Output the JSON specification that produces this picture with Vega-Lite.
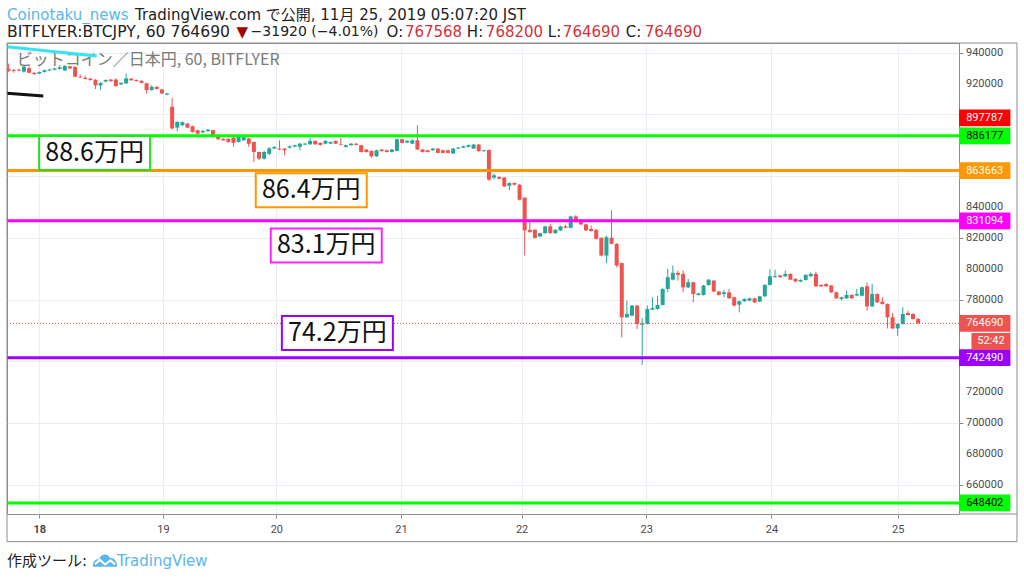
{
  "$schema": "https://vega.github.io/schema/vega-lite/v6.json",
  "autosize": "none",
  "width": 952,
  "height": 471,
  "padding": {"left": 7, "top": 43, "right": 65, "bottom": 64},
  "background": "#ffffff",
  "config": {"view": {"stroke": "#8d8d8d", "strokeWidth": 1}},
  "datasets": {
    "candles": [
      {"i":-6,"o":929500,"h":933000,"l":927500,"c":928400},
      {"i":-5,"o":928800,"h":929500,"l":927000,"c":928200},
      {"i":-4,"o":929000,"h":929600,"l":928000,"c":928400},
      {"i":-3,"o":927700,"h":931500,"l":927000,"c":931000},
      {"i":-2,"o":930000,"h":931000,"l":926500,"c":927000},
      {"i":-1,"o":927000,"h":927400,"l":925500,"c":926200},
      {"i":0,"o":926500,"h":927900,"l":926100,"c":927500},
      {"i":1,"o":927600,"h":929100,"l":927200,"c":928700},
      {"i":2,"o":928500,"h":929600,"l":928100,"c":929200},
      {"i":3,"o":929000,"h":930200,"l":928600,"c":929800},
      {"i":4,"o":929500,"h":932000,"l":929100,"c":930500},
      {"i":5,"o":928500,"h":932000,"l":928100,"c":931400},
      {"i":6,"o":931200,"h":931600,"l":929400,"c":929800},
      {"i":7,"o":930800,"h":931500,"l":924000,"c":924500},
      {"i":8,"o":924500,"h":926000,"l":923600,"c":924000},
      {"i":9,"o":923800,"h":925000,"l":922600,"c":923000},
      {"i":10,"o":923200,"h":923600,"l":921900,"c":922300},
      {"i":11,"o":922500,"h":922900,"l":916500,"c":918800},
      {"i":12,"o":918800,"h":921000,"l":916000,"c":920400},
      {"i":13,"o":921300,"h":922700,"l":920900,"c":922300},
      {"i":14,"o":922600,"h":923000,"l":921200,"c":921600},
      {"i":15,"o":922600,"h":923500,"l":918000,"c":918400},
      {"i":16,"o":919500,"h":920900,"l":919100,"c":920500},
      {"i":17,"o":920100,"h":926500,"l":919700,"c":923400},
      {"i":18,"o":923200,"h":923600,"l":921800,"c":922200},
      {"i":19,"o":922300,"h":922700,"l":921300,"c":921700},
      {"i":20,"o":921800,"h":922200,"l":920100,"c":920500},
      {"i":21,"o":920200,"h":920600,"l":913600,"c":915800},
      {"i":22,"o":915800,"h":919000,"l":915400,"c":917900},
      {"i":23,"o":917900,"h":918300,"l":916100,"c":916500},
      {"i":24,"o":916200,"h":916600,"l":913200,"c":913600},
      {"i":25,"o":912800,"h":914000,"l":912400,"c":913600},
      {"i":26,"o":905000,"h":910500,"l":890000,"c":891000},
      {"i":27,"o":891500,"h":895600,"l":889000,"c":895200},
      {"i":28,"o":893000,"h":895400,"l":892600,"c":895000},
      {"i":29,"o":894100,"h":894500,"l":891100,"c":891500},
      {"i":30,"o":892400,"h":892800,"l":888300,"c":888700},
      {"i":31,"o":889800,"h":890200,"l":887200,"c":887600},
      {"i":32,"o":888400,"h":889800,"l":888000,"c":889400},
      {"i":33,"o":889200,"h":890600,"l":888800,"c":890200},
      {"i":34,"o":889800,"h":890200,"l":885100,"c":885500},
      {"i":35,"o":885500,"h":885900,"l":883600,"c":884000},
      {"i":36,"o":884200,"h":884600,"l":882900,"c":883300},
      {"i":37,"o":884200,"h":884600,"l":881800,"c":882200},
      {"i":38,"o":885000,"h":885400,"l":879000,"c":881600},
      {"i":39,"o":882200,"h":885900,"l":881800,"c":885500},
      {"i":40,"o":883300,"h":886900,"l":882900,"c":886500},
      {"i":41,"o":884400,"h":885000,"l":879000,"c":881000},
      {"i":42,"o":882200,"h":882500,"l":869200,"c":875700},
      {"i":43,"o":875700,"h":876000,"l":870500,"c":871400},
      {"i":44,"o":871400,"h":876500,"l":870800,"c":875700},
      {"i":45,"o":874500,"h":879000,"l":873500,"c":878000},
      {"i":46,"o":878000,"h":879500,"l":877500,"c":878900},
      {"i":47,"o":877900,"h":883300,"l":876800,"c":877300},
      {"i":48,"o":877900,"h":878300,"l":873600,"c":876800},
      {"i":49,"o":878500,"h":880000,"l":878000,"c":879400},
      {"i":50,"o":879200,"h":880500,"l":878800,"c":880100},
      {"i":51,"o":879000,"h":881500,"l":876800,"c":881100},
      {"i":52,"o":880500,"h":881600,"l":880000,"c":881100},
      {"i":53,"o":880700,"h":885000,"l":880300,"c":882900},
      {"i":54,"o":882900,"h":883200,"l":880300,"c":880700},
      {"i":55,"o":881600,"h":882000,"l":879800,"c":880300},
      {"i":56,"o":881100,"h":883300,"l":880700,"c":882900},
      {"i":57,"o":881100,"h":882600,"l":880800,"c":882200},
      {"i":58,"o":882900,"h":883200,"l":880800,"c":881100},
      {"i":59,"o":880700,"h":885000,"l":880000,"c":880300},
      {"i":60,"o":879000,"h":880500,"l":878500,"c":880100},
      {"i":61,"o":880100,"h":881400,"l":879800,"c":881100},
      {"i":62,"o":881100,"h":881500,"l":880000,"c":880300},
      {"i":63,"o":880100,"h":880400,"l":875300,"c":875700},
      {"i":64,"o":877300,"h":877600,"l":875300,"c":875700},
      {"i":65,"o":876400,"h":876800,"l":872000,"c":872900},
      {"i":66,"o":872900,"h":877200,"l":872500,"c":876800},
      {"i":67,"o":877300,"h":877700,"l":876000,"c":876200},
      {"i":68,"o":876800,"h":877300,"l":875400,"c":875700},
      {"i":69,"o":875700,"h":877700,"l":875300,"c":877300},
      {"i":70,"o":876400,"h":884500,"l":876000,"c":884000},
      {"i":71,"o":884000,"h":884400,"l":881200,"c":881600},
      {"i":72,"o":881800,"h":883300,"l":881400,"c":882900},
      {"i":73,"o":881100,"h":883800,"l":880800,"c":883300},
      {"i":74,"o":883300,"h":893000,"l":877000,"c":877300},
      {"i":75,"o":877300,"h":877700,"l":875300,"c":875700},
      {"i":76,"o":876800,"h":877200,"l":875400,"c":875700},
      {"i":77,"o":876800,"h":878300,"l":876500,"c":877900},
      {"i":78,"o":877900,"h":878200,"l":874800,"c":875100},
      {"i":79,"o":876800,"h":877200,"l":874800,"c":875100},
      {"i":80,"o":876800,"h":877200,"l":874700,"c":875100},
      {"i":81,"o":874700,"h":878300,"l":874400,"c":877900},
      {"i":82,"o":877900,"h":878900,"l":877600,"c":878500},
      {"i":83,"o":878500,"h":879800,"l":878200,"c":879400},
      {"i":84,"o":879000,"h":880500,"l":878700,"c":880100},
      {"i":85,"o":877900,"h":880900,"l":877600,"c":880500},
      {"i":86,"o":880500,"h":880900,"l":875900,"c":876200},
      {"i":87,"o":876200,"h":877200,"l":875900,"c":876800},
      {"i":88,"o":877000,"h":877300,"l":857000,"c":857800},
      {"i":89,"o":859100,"h":861700,"l":857800,"c":860600},
      {"i":90,"o":859500,"h":860000,"l":858000,"c":858400},
      {"i":91,"o":859100,"h":859500,"l":853000,"c":853400},
      {"i":92,"o":853800,"h":856000,"l":850800,"c":855600},
      {"i":93,"o":855600,"h":856000,"l":854000,"c":854500},
      {"i":94,"o":854500,"h":855000,"l":844300,"c":844800},
      {"i":95,"o":846100,"h":846500,"l":808600,"c":824900},
      {"i":96,"o":825300,"h":830300,"l":823400,"c":823800},
      {"i":97,"o":825300,"h":825700,"l":819700,"c":820100},
      {"i":98,"o":821000,"h":823500,"l":820600,"c":823100},
      {"i":99,"o":823100,"h":827900,"l":822700,"c":827500},
      {"i":100,"o":827500,"h":829200,"l":822700,"c":823100},
      {"i":101,"o":823100,"h":825700,"l":822700,"c":825300},
      {"i":102,"o":824900,"h":827900,"l":824500,"c":827500},
      {"i":103,"o":827500,"h":828500,"l":826200,"c":826600},
      {"i":104,"o":826600,"h":834400,"l":826200,"c":834000},
      {"i":105,"o":834000,"h":834800,"l":829900,"c":830300},
      {"i":106,"o":831800,"h":832200,"l":828400,"c":828800},
      {"i":107,"o":828800,"h":829200,"l":824500,"c":824900},
      {"i":108,"o":825900,"h":828100,"l":824100,"c":824500},
      {"i":109,"o":825300,"h":825700,"l":819000,"c":819400},
      {"i":110,"o":820100,"h":820500,"l":808200,"c":808600},
      {"i":111,"o":808600,"h":821600,"l":803700,"c":820500},
      {"i":112,"o":820100,"h":837900,"l":815800,"c":816200},
      {"i":113,"o":816200,"h":816600,"l":801000,"c":802100},
      {"i":114,"o":803700,"h":804100,"l":755600,"c":768600},
      {"i":115,"o":768600,"h":779400,"l":768200,"c":770800},
      {"i":116,"o":769700,"h":776600,"l":769300,"c":776200},
      {"i":117,"o":776200,"h":776600,"l":761000,"c":764300},
      {"i":118,"o":763800,"h":768000,"l":737900,"c":764700},
      {"i":119,"o":764300,"h":776200,"l":764000,"c":774000},
      {"i":120,"o":773600,"h":781600,"l":773200,"c":774700},
      {"i":121,"o":774000,"h":782600,"l":773600,"c":776600},
      {"i":122,"o":776600,"h":787400,"l":776200,"c":787000},
      {"i":123,"o":787000,"h":800000,"l":784800,"c":794600},
      {"i":124,"o":793000,"h":802100,"l":792600,"c":797400},
      {"i":125,"o":797400,"h":798900,"l":792400,"c":796100},
      {"i":126,"o":796700,"h":798900,"l":784800,"c":788000},
      {"i":127,"o":788000,"h":793500,"l":787600,"c":791300},
      {"i":128,"o":791300,"h":791700,"l":778300,"c":783700},
      {"i":129,"o":783100,"h":784500,"l":782700,"c":784100},
      {"i":130,"o":783100,"h":789600,"l":782700,"c":789200},
      {"i":131,"o":789500,"h":793400,"l":789100,"c":793000},
      {"i":132,"o":792400,"h":792800,"l":784900,"c":785300},
      {"i":133,"o":785300,"h":785700,"l":782700,"c":783100},
      {"i":134,"o":783700,"h":786300,"l":781600,"c":784800},
      {"i":135,"o":784800,"h":787000,"l":780500,"c":780900},
      {"i":136,"o":781600,"h":782000,"l":775800,"c":776200},
      {"i":137,"o":776800,"h":779400,"l":771800,"c":779000},
      {"i":138,"o":779000,"h":780900,"l":778600,"c":780500},
      {"i":139,"o":779400,"h":781300,"l":779000,"c":780900},
      {"i":140,"o":780900,"h":781300,"l":777900,"c":778300},
      {"i":141,"o":778800,"h":782600,"l":778400,"c":782200},
      {"i":142,"o":782200,"h":790000,"l":781800,"c":789600},
      {"i":143,"o":789600,"h":799900,"l":789200,"c":795200},
      {"i":144,"o":794600,"h":799500,"l":794200,"c":795200},
      {"i":145,"o":795700,"h":796100,"l":794200,"c":794600},
      {"i":146,"o":795200,"h":798900,"l":794800,"c":796700},
      {"i":147,"o":796700,"h":797100,"l":792600,"c":793000},
      {"i":148,"o":793500,"h":793900,"l":791400,"c":791800},
      {"i":149,"o":791800,"h":793200,"l":791400,"c":792800},
      {"i":150,"o":792800,"h":796500,"l":792400,"c":796100},
      {"i":151,"o":795200,"h":797800,"l":794800,"c":796700},
      {"i":152,"o":796700,"h":798200,"l":788300,"c":788700},
      {"i":153,"o":789600,"h":790000,"l":788300,"c":788700},
      {"i":154,"o":790200,"h":790600,"l":788300,"c":788700},
      {"i":155,"o":789200,"h":789600,"l":784400,"c":784800},
      {"i":156,"o":784800,"h":785200,"l":780500,"c":780900},
      {"i":157,"o":780500,"h":782000,"l":779400,"c":781600},
      {"i":158,"o":780900,"h":785900,"l":780500,"c":783100},
      {"i":159,"o":783100,"h":783500,"l":780500,"c":780900},
      {"i":160,"o":782700,"h":787000,"l":782300,"c":783700},
      {"i":161,"o":782600,"h":788500,"l":782200,"c":788100},
      {"i":162,"o":788700,"h":791300,"l":772900,"c":775700},
      {"i":163,"o":775700,"h":790200,"l":775300,"c":783700},
      {"i":164,"o":783700,"h":784100,"l":777900,"c":778300},
      {"i":165,"o":778700,"h":781600,"l":776800,"c":777200},
      {"i":166,"o":777200,"h":777600,"l":761400,"c":768600},
      {"i":167,"o":768600,"h":771400,"l":761000,"c":761400},
      {"i":168,"o":761400,"h":764700,"l":756700,"c":764300},
      {"i":169,"o":764300,"h":775100,"l":763900,"c":770800},
      {"i":170,"o":771400,"h":772900,"l":769700,"c":770100},
      {"i":171,"o":770800,"h":771200,"l":767100,"c":767500},
      {"i":172,"o":767568,"h":768200,"l":764690,"c":764690}
    ],
    "levels": [
      {"k":"g1","v":886177},
      {"k":"or","v":863663},
      {"k":"mg","v":831094},
      {"k":"pu","v":742490},
      {"k":"g2","v":648402}
    ],
    "trend": [
      {"k":"cy","i":-6.32,"i2":11.23,"v":943900,"v2":937880},
      {"k":"bk","i":-6.32,"i2":0.78,"v":913720,"v2":911970}
    ],
    "notes": [
      {"t":"88.6万円","i":10.83,"v":874990,"k":"g1"},
      {"t":"86.4万円","i":53.23,"v":850890,"k":"or"},
      {"t":"83.1万円","i":56.16,"v":815140,"k":"mg"},
      {"t":"74.2万円","i":58.34,"v":758470,"k":"pu"}
    ],
    "yticks": [
      {"v":660000,"t":"660000"},
      {"v":680000,"t":"680000"},
      {"v":700000,"t":"700000"},
      {"v":720000,"t":"720000"},
      {"v":780000,"t":"780000"},
      {"v":800000,"t":"800000"},
      {"v":820000,"t":"820000"},
      {"v":840000,"t":"840000"},
      {"v":920000,"t":"920000"},
      {"v":940000,"t":"940000"}
    ],
    "plabels": [
      {"k":"rd","v":897787,"t":"897787"},
      {"k":"g1","v":886177,"t":"886177"},
      {"k":"or","v":863663,"t":"863663"},
      {"k":"mg","v":831094,"t":"831094"},
      {"k":"la","v":764690,"t":"764690"},
      {"k":"pu","v":742490,"t":"742490"},
      {"k":"g2","v":648402,"t":"648402"}
    ],
    "timer": [{"k":"la","v":752970,"t":"52:42"}],
    "header": [
      {"t":"Coinotaku_news","i":-6.32,"v":964400,"k":"blue"},
      {"t":"TradingView.com で公開, 11月 25, 2019 05:07:20 JST","i":18.72,"v":964400,"k":"ink"},
      {"t":"▼","i":38.62,"v":953600,"k":"dred"},
      {"t":"O:","i":67.97,"v":953600,"k":"ink"},
      {"t":"767568","i":71.55,"v":953600,"k":"red"},
      {"t":"H:","i":83.68,"v":953600,"k":"ink"},
      {"t":"768200","i":87.4,"v":953600,"k":"red"},
      {"t":"L:","i":99.53,"v":953600,"k":"ink"},
      {"t":"764690","i":102.47,"v":953600,"k":"red"},
      {"t":"C:","i":114.8,"v":953600,"k":"ink"},
      {"t":"764690","i":118.5,"v":953600,"k":"red"}
    ],
    "header1": [
      {"t":"BITFLYER:BTCJPY, 60 764690","i":-6.32,"v":953600,"k":"ink"}
    ],
    "header2": [
      {"t":"−31920 (−4.01%)","i":41.36,"v":953600,"k":"ink"}
    ],
    "footer": [
      {"t":"作成ツール:","i":-6.32,"v":610900,"k":"ink"},
      {"t":"TradingView","i":15.2,"v":610900,"k":"blue"}
    ],
    "watermark": [
      {"t":"ビットコイン／日本円, 60, BITFLYER","i":-4.42,"v":935300,"k":"wm"}
    ]
  },
  "layer": [
    {
      "data": {"name": "watermark"},
      "mark": {"type": "text", "font": "Noto Sans CJK JP", "fontSize": 16, "align": "left", "baseline": "middle"},
      "encoding": {
        "x": {"field": "i", "type": "quantitative", "scale": {"domain": [-6.32, 180], "nice": false, "zero": false, "padding": 0},
          "axis": {"orient": "bottom", "title": null, "values": [0, 24.2, 46.4, 70.8, 94.4, 118.8, 143.3, 168],
            "labelExpr": "datum.value < 12 ? '18' : datum.value < 35 ? '19' : datum.value < 58 ? '20' : datum.value < 82 ? '21' : datum.value < 106 ? '22' : datum.value < 130 ? '23' : datum.value < 155 ? '24' : '25'",
            "labelFontWeight": {"condition": {"test": "datum.value < 12", "value": "bold"}, "value": "normal"},
            "grid": true, "gridColor": "#e8eef4", "domain": false, "tickColor": "#8d8d8d", "tickSize": 4,
            "labelFont": "Roboto", "labelFontSize": 11, "labelColor": "#4a4a4a", "labelPadding": 5, "labelFlush": false, "labelOverlap": false}},
        "y": {"field": "v", "type": "quantitative", "scale": {"domain": [641200, 946300], "nice": false, "zero": false},
          "axis": {"orient": "right", "title": null, "values": [660000, 680000, 700000, 720000, 740000, 760000, 780000, 800000, 820000, 840000, 860000, 880000, 900000, 920000, 940000],
            "labels": false, "grid": true, "gridColor": "#e8eef4", "domain": false, "tickColor": "#8d8d8d", "tickSize": 4}},
        "text": {"field": "t"},
        "color": {"field": "k", "type": "nominal", "legend": null,
          "scale": {"domain": ["g1","or","mg","pu","g2","rd","la","cy","bk","wm","blue","ink","red","dred"],
            "range": ["#00ff00","#ff9800","#ff00ff","#9c00ff","#00ff00","#ff0000","#ef5350","#35e3f2","#111111","#7a7a7a","#5ab7e6","#222222","#d0333a","#a30000"]}}
      }
    },
    {
      "data": {"name": "yticks"},
      "mark": {"type": "text", "font": "Roboto", "fontSize": 11, "align": "left", "baseline": "middle", "dx": 7, "fill": "#4a4a4a"},
      "encoding": {
        "x": {"datum": 180, "type": "quantitative", "scale": {"domain": [-6.32, 180], "nice": false, "zero": false, "padding": 0}},
        "y": {"field": "v", "type": "quantitative", "scale": {"domain": [641200, 946300], "nice": false, "zero": false}},
        "text": {"field": "t"}
      }
    },
    {
      "data": {"name": "candles"},
      "mark": {"type": "rule", "strokeWidth": 1},
      "encoding": {
        "x": {"field": "i", "type": "quantitative", "scale": {"domain": [-6.32, 180], "nice": false, "zero": false, "padding": 0}},
        "y": {"field": "l", "type": "quantitative", "scale": {"domain": [641200, 946300], "nice": false, "zero": false}},
        "y2": {"field": "h"},
        "color": {"condition": {"test": "datum.c >= datum.o", "value": "#26a69a"}, "value": "#ef5350"}
      }
    },
    {
      "data": {"name": "candles"},
      "mark": {"type": "bar", "size": 4, "orient": "vertical"},
      "encoding": {
        "x": {"field": "i", "type": "quantitative", "scale": {"domain": [-6.32, 180], "nice": false, "zero": false, "padding": 0}},
        "y": {"field": "o", "type": "quantitative", "scale": {"domain": [641200, 946300], "nice": false, "zero": false}},
        "y2": {"field": "c"},
        "color": {"condition": {"test": "datum.c >= datum.o", "value": "#26a69a"}, "value": "#ef5350"}
      }
    },
    {
      "data": {"values": [{}]},
      "mark": {"type": "rule", "color": "#ef5350", "strokeWidth": 1, "strokeDash": [1, 2]},
      "encoding": {
        "y": {"datum": 764690, "type": "quantitative", "scale": {"domain": [641200, 946300], "nice": false, "zero": false}}
      }
    },
    {
      "data": {"name": "levels"},
      "mark": {"type": "rule", "strokeWidth": 3},
      "encoding": {
        "y": {"field": "v", "type": "quantitative", "scale": {"domain": [641200, 946300], "nice": false, "zero": false}},
        "color": {"field": "k", "type": "nominal", "legend": null}
      }
    },
    {
      "data": {"name": "trend"},
      "mark": {"type": "rule", "strokeWidth": 3},
      "encoding": {
        "x": {"field": "i", "type": "quantitative", "scale": {"domain": [-6.32, 180], "nice": false, "zero": false, "padding": 0}},
        "x2": {"field": "i2"},
        "y": {"field": "v", "type": "quantitative", "scale": {"domain": [641200, 946300], "nice": false, "zero": false}},
        "y2": {"field": "v2"},
        "color": {"field": "k", "type": "nominal", "legend": null}
      }
    },
    {
      "data": {"name": "notes"},
      "mark": {"type": "point", "shape": "M-1,-0.3063H1V0.3063H-1Z", "size": 12321, "filled": true, "fill": "#ffffff", "strokeWidth": 2, "opacity": 1},
      "encoding": {
        "x": {"field": "i", "type": "quantitative", "scale": {"domain": [-6.32, 180], "nice": false, "zero": false, "padding": 0}},
        "y": {"field": "v", "type": "quantitative", "scale": {"domain": [641200, 946300], "nice": false, "zero": false}},
        "stroke": {"field": "k", "type": "nominal", "legend": null,
          "scale": {"domain": ["g1","or","mg","pu"], "range": ["#22e022","#ff9800","#ff22ff","#9c00ff"]}}
      }
    },
    {
      "data": {"name": "notes"},
      "mark": {"type": "text", "font": "Noto Sans CJK JP", "fontSize": 25, "align": "center", "baseline": "middle", "fill": "#111111"},
      "encoding": {
        "x": {"field": "i", "type": "quantitative", "scale": {"domain": [-6.32, 180], "nice": false, "zero": false, "padding": 0}},
        "y": {"field": "v", "type": "quantitative", "scale": {"domain": [641200, 946300], "nice": false, "zero": false}},
        "text": {"field": "t"}
      }
    },
    {
      "data": {"name": "plabels"},
      "mark": {"type": "point", "shape": "M-1,-0.325H1V0.325H-1Z", "size": 2642, "filled": true, "strokeWidth": 0, "opacity": 1},
      "encoding": {
        "x": {"datum": 185.03, "type": "quantitative", "scale": {"domain": [-6.32, 180], "nice": false, "zero": false, "padding": 0}},
        "y": {"field": "v", "type": "quantitative", "scale": {"domain": [641200, 946300], "nice": false, "zero": false}},
        "color": {"field": "k", "type": "nominal", "legend": null}
      }
    },
    {
      "data": {"name": "plabels"},
      "mark": {"type": "text", "font": "Roboto", "fontSize": 11, "align": "center", "baseline": "middle"},
      "encoding": {
        "x": {"datum": 185.03, "type": "quantitative", "scale": {"domain": [-6.32, 180], "nice": false, "zero": false, "padding": 0}},
        "y": {"field": "v", "type": "quantitative", "scale": {"domain": [641200, 946300], "nice": false, "zero": false}},
        "text": {"field": "t"},
        "fill": {"condition": {"test": "datum.k === 'g1' || datum.k === 'g2'", "value": "#000000"}, "value": "#ffffff"}
      }
    },
    {
      "data": {"name": "timer"},
      "mark": {"type": "point", "shape": "M-1,-0.428H1V0.428H-1Z", "size": 1521, "filled": true, "strokeWidth": 0, "opacity": 1},
      "encoding": {
        "x": {"datum": 186.25, "type": "quantitative", "scale": {"domain": [-6.32, 180], "nice": false, "zero": false, "padding": 0}},
        "y": {"field": "v", "type": "quantitative", "scale": {"domain": [641200, 946300], "nice": false, "zero": false}},
        "color": {"field": "k", "type": "nominal", "legend": null}
      }
    },
    {
      "data": {"name": "timer"},
      "mark": {"type": "text", "font": "Roboto", "fontSize": 11, "align": "center", "baseline": "middle", "fill": "#ffffff"},
      "encoding": {
        "x": {"datum": 186.25, "type": "quantitative", "scale": {"domain": [-6.32, 180], "nice": false, "zero": false, "padding": 0}},
        "y": {"field": "v", "type": "quantitative", "scale": {"domain": [641200, 946300], "nice": false, "zero": false}},
        "text": {"field": "t"}
      }
    },
    {
      "data": {"name": "header"},
      "mark": {"type": "text", "font": "DejaVu Sans, Noto Sans CJK JP", "fontSize": 15, "align": "left", "baseline": "middle"},
      "encoding": {
        "x": {"field": "i", "type": "quantitative", "scale": {"domain": [-6.32, 180], "nice": false, "zero": false, "padding": 0}},
        "y": {"field": "v", "type": "quantitative", "scale": {"domain": [641200, 946300], "nice": false, "zero": false}},
        "text": {"field": "t"},
        "color": {"field": "k", "type": "nominal", "legend": null}
      }
    },
    {
      "data": {"name": "header1"},
      "mark": {"type": "text", "font": "DejaVu Sans", "fontSize": 15.6, "align": "left", "baseline": "middle"},
      "encoding": {
        "x": {"field": "i", "type": "quantitative", "scale": {"domain": [-6.32, 180], "nice": false, "zero": false, "padding": 0}},
        "y": {"field": "v", "type": "quantitative", "scale": {"domain": [641200, 946300], "nice": false, "zero": false}},
        "text": {"field": "t"},
        "color": {"field": "k", "type": "nominal", "legend": null}
      }
    },
    {
      "data": {"name": "header2"},
      "mark": {"type": "text", "font": "DejaVu Sans", "fontSize": 14, "align": "left", "baseline": "middle"},
      "encoding": {
        "x": {"field": "i", "type": "quantitative", "scale": {"domain": [-6.32, 180], "nice": false, "zero": false, "padding": 0}},
        "y": {"field": "v", "type": "quantitative", "scale": {"domain": [641200, 946300], "nice": false, "zero": false}},
        "text": {"field": "t"},
        "color": {"field": "k", "type": "nominal", "legend": null}
      }
    },
    {
      "data": {"name": "footer"},
      "mark": {"type": "text", "font": "DejaVu Sans, Noto Sans CJK JP", "fontSize": 15, "align": "left", "baseline": "middle"},
      "encoding": {
        "x": {"field": "i", "type": "quantitative", "scale": {"domain": [-6.32, 180], "nice": false, "zero": false, "padding": 0}},
        "y": {"field": "v", "type": "quantitative", "scale": {"domain": [641200, 946300], "nice": false, "zero": false}},
        "text": {"field": "t"},
        "color": {"field": "k", "type": "nominal", "legend": null}
      }
    },
    {
      "data": {"values": [{}]},
      "mark": {"type": "point", "shape": "M-1,0.55C-1.05,0.1,-0.75,-0.12,-0.5,-0.06C-0.35,-0.52,0.2,-0.62,0.4,-0.2C0.75,-0.25,1.05,0.1,1,0.55Z", "size": 576, "filled": true, "fill": "#5ab7e6", "strokeWidth": 0, "opacity": 1},
      "encoding": {
        "x": {"datum": 12.85, "type": "quantitative", "scale": {"domain": [-6.32, 180], "nice": false, "zero": false, "padding": 0}},
        "y": {"datum": 611300, "type": "quantitative", "scale": {"domain": [641200, 946300], "nice": false, "zero": false}}
      }
    },
    {
      "data": {"values": [{}]},
      "mark": {"type": "point", "shape": "M-0.85,0.35L-0.42,-0.02L0.02,0.36L0.45,0.02L0.85,0.35", "size": 576, "filled": false, "stroke": "#ffffff", "strokeWidth": 2, "opacity": 1},
      "encoding": {
        "x": {"datum": 12.85, "type": "quantitative", "scale": {"domain": [-6.32, 180], "nice": false, "zero": false, "padding": 0}},
        "y": {"datum": 611300, "type": "quantitative", "scale": {"domain": [641200, 946300], "nice": false, "zero": false}}
      }
    },
    {
      "data": {"values": [{}]},
      "mark": {"type": "rect", "fill": "transparent", "stroke": "#8d8d8d", "strokeWidth": 1},
      "encoding": {
        "x": {"datum": -6.32, "type": "quantitative", "scale": {"domain": [-6.32, 180], "nice": false, "zero": false, "padding": 0}},
        "x2": {"datum": 191.35},
        "y": {"datum": 623300, "type": "quantitative", "scale": {"domain": [641200, 946300], "nice": false, "zero": false}},
        "y2": {"datum": 946300}
      }
    },
    {
      "data": {"values": [{}]},
      "mark": {"type": "rule", "color": "#8d8d8d", "strokeWidth": 1},
      "encoding": {
        "x": {"datum": 180, "type": "quantitative", "scale": {"domain": [-6.32, 180], "nice": false, "zero": false, "padding": 0}},
        "x2": {"datum": 191.35},
        "y": {"datum": 641200, "type": "quantitative", "scale": {"domain": [641200, 946300], "nice": false, "zero": false}}
      }
    }
  ]
}
